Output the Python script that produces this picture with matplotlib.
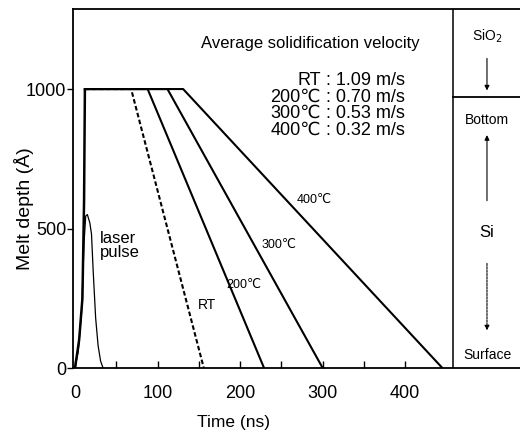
import matplotlib

matplotlib.use("Agg")
from matplotlib import pyplot as plt

plt.rcParams["font.family"] = ["Liberation Sans", "DejaVu Sans"]

# melt front rise during the pulse (ns, Angstrom)
rise_t = [0, 5, 9, 11, 12]
rise_depth = [0, 100, 250, 600, 1000]

# solidification: plateau at 1000 A, then linear regrowth
labels = ["RT", "200\u2103", "300\u2103", "400\u2103"]
velocities = ["1.09 m/s", "0.70 m/s", "0.53 m/s", "0.32 m/s"]
t_start = [68, 88, 112, 131]
t_end = [156, 229, 300, 445]
plateau_depth = 1000

# laser pulse shape (arb. units scaled to the depth axis)
pulse_t = [0, 4, 8, 11, 13, 15, 18, 20, 22, 25, 28, 31, 34]
pulse_i = [0, 60, 200, 450, 545, 550, 520, 480, 350, 180, 80, 25, 0]

fig = plt.figure(figsize=(5.2, 4.41), dpi=100)
ax = fig.add_axes([0.1404, 0.1655, 0.8596, 0.8141])
ax.set_xlim(-2.4, 539)
ax.set_ylim(0, 1287)

ax.plot(rise_t, rise_depth, color="black", lw=1.8, solid_capstyle="butt")
ax.plot(pulse_t, pulse_i, color="black", lw=0.9)
for i, lab in enumerate(labels):
    xs = [rise_t[-1], t_start[i], t_end[i]]
    ys = [plateau_depth, plateau_depth, 0]
    ls = (0, (2.2, 1.2)) if lab == "RT" else "-"
    ax.plot(xs, ys, color="black", lw=1.5, ls=ls)

# side panel: sample cross-section
ax.axvline(458, color="black", lw=1.1)
ax.plot([458, 539], [971, 971], color="black", lw=1.3)
ax.text(499, 1190, "SiO$_2$", ha="center", va="center", fontsize=10)
ax.annotate("", xy=(499, 985), xytext=(499, 1120),
            arrowprops=dict(arrowstyle="-|>", color="black", lw=0.8, mutation_scale=7))
ax.text(499, 889, "Bottom", ha="center", va="center", fontsize=10)
ax.annotate("", xy=(499, 845), xytext=(499, 590),
            arrowprops=dict(arrowstyle="-|>", color="black", lw=0.8, mutation_scale=7))
ax.text(499, 484, "Si", ha="center", va="center", fontsize=12)
ax.annotate("", xy=(499, 125), xytext=(499, 385),
            arrowprops=dict(arrowstyle="-|>", color="black", lw=0.8, ls=(0, (2, 1)), mutation_scale=7))
ax.text(499, 47, "Surface", ha="center", va="center", fontsize=10)

# velocity table
ax.text(285, 1165, "Average solidification velocity", ha="center", va="center", fontsize=12)
row_y = [1032, 971, 914, 853]
for lab, vel, y in zip(labels, velocities, row_y):
    ax.text(298, y, lab, ha="right", va="center", fontsize=13)
    ax.text(298, y, " : " + vel, ha="left", va="center", fontsize=13)

# curve labels
ax.text(290, 602, "400\u2103", ha="center", va="center", fontsize=9)
ax.text(247, 441, "300\u2103", ha="center", va="center", fontsize=9)
ax.text(204, 297, "200\u2103", ha="center", va="center", fontsize=9)
ax.text(160, 226, "RT", ha="center", va="center", fontsize=10)
ax.text(30, 440, "laser\npulse", ha="left", va="center", fontsize=12, linespacing=0.95)

ax.set_xticks([0, 100, 200, 300, 400])
ax.set_xticks([50, 150, 250, 350], minor=True)
ax.set_yticks([0, 500, 1000])
ax.tick_params(axis="x", which="both", direction="in", length=5, width=1, labelsize=13, pad=12)
ax.tick_params(axis="y", direction="out", length=4, width=1, labelsize=13, pad=1)
ax.spines["right"].set_visible(False)
for side in ("left", "top", "bottom"):
    ax.spines[side].set_linewidth(1.3)

ax.set_xlabel("Time (ns)", fontsize=12.5)
ax.xaxis.set_label_coords(0.36, -0.13)
ax.set_ylabel("Melt depth (\u00c5)", fontsize=14)
ax.yaxis.set_label_coords(-0.11, 0.443)
ax.yaxis.label.set_va("center")

fig.savefig("out.png", dpi=100)
